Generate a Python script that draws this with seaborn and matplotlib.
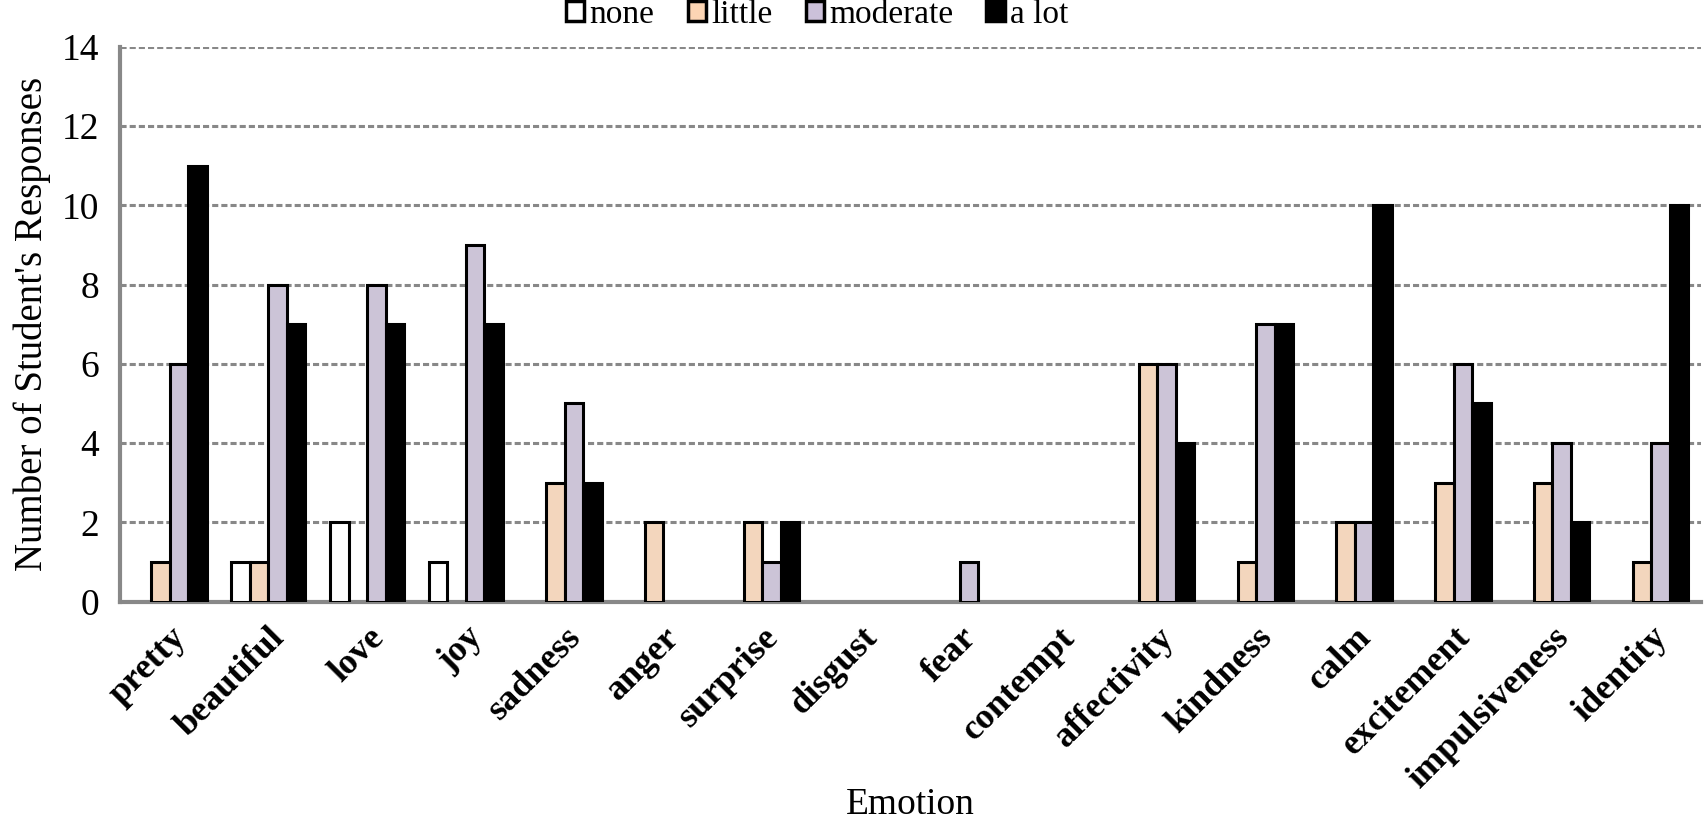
import pandas as pd
import matplotlib
matplotlib.use("Agg")
import matplotlib.pyplot as plt
from matplotlib.patches import Patch
import seaborn as sns

emotions = ["pretty", "beautiful", "love", "joy", "sadness", "anger", "surprise",
            "disgust", "fear", "contempt", "affectivity", "kindness", "calm",
            "excitement", "impulsiveness", "identity"]
levels = ["none", "little", "moderate", "a lot"]
none = [0, 1, 2, 1, 0, 0, 0, 0, 0, 0, 0, 0, 0, 0, 0, 0]
little = [1, 1, 0, 0, 3, 2, 2, 0, 0, 0, 6, 1, 2, 3, 3, 1]
moderate = [6, 8, 8, 9, 5, 0, 1, 0, 1, 0, 6, 7, 2, 6, 4, 4]
a_lot = [11, 7, 7, 7, 3, 0, 2, 0, 0, 0, 4, 7, 10, 5, 2, 10]
palette = ["#ffffff", "#fcd5b4", "#ccc1da", "#000000"]

sns.set_style("white")
plt.rcParams['font.family'] = ['Liberation Serif', 'DejaVu Serif']
plt.rcParams['text.color'] = 'black'
plt.rcParams['axes.labelcolor'] = 'black'
plt.rcParams['xtick.color'] = 'black'
plt.rcParams['ytick.color'] = 'black'

rows = []
for lvl, vals in zip(levels, [none, little, moderate, a_lot]):
    for emo, v in zip(emotions, vals):
        rows.append({"Emotion": emo, "level": lvl, "count": v})
df = pd.DataFrame(rows)

fig, ax = plt.subplots(figsize=(17.04, 8.24), dpi=100)
fig.subplots_adjust(left=0.0705, right=0.998, top=0.943, bottom=0.27)

sns.barplot(data=df, x="Emotion", y="count", hue="level", hue_order=levels,
            order=emotions, palette=palette, edgecolor="black", linewidth=2.2,
            width=0.75, ax=ax, zorder=3, legend=False)
# zero-height bars should not draw
for p in ax.patches:
    if p.get_height() == 0:
        p.set_visible(False)

ax.set_ylim(0, 14)
ax.set_yticks(range(0, 15, 2))
ax.set_xlim(-0.5, len(emotions) - 0.5)
ax.set_xticks([i - 0.5 for i in range(len(emotions) + 1)], minor=False)
ax.set_xticklabels([])
ax.set_xticks(range(len(emotions)), minor=True)
ax.set_xticklabels(emotions, minor=True, rotation=45, ha="right",
                   rotation_mode="anchor", fontsize=26, fontweight="bold")
ax.tick_params(axis="x", which="minor", length=0, pad=14)
ax.tick_params(axis="x", which="major", length=9, width=3, color="#888888", direction="out")
ax.tick_params(axis="y", length=9, width=3, color="#888888", direction="out",
               labelsize=27, labelcolor="black", pad=6)

ax.yaxis.grid(True, linestyle=(0, (2, 1)), color="#888888", linewidth=2.2, zorder=0)
ax.set_axisbelow(True)
for s in ["top", "right"]:
    ax.spines[s].set_visible(False)
for s in ["left", "bottom"]:
    ax.spines[s].set_color("#888888")
    ax.spines[s].set_linewidth(3)

ax.set_xlabel("Emotion", fontsize=27)
ax.xaxis.set_label_coords(0.5, -0.335)
ax.set_ylabel("Number of Student's Responses", fontsize=28, labelpad=8)

handles = [Patch(facecolor=c, edgecolor="black", linewidth=2.5) for c in palette]
ax.legend(handles, levels, loc="center", bbox_to_anchor=(0.441, 1.058), ncol=4,
          frameon=False, fontsize=24, handlelength=0.55, handleheight=0.55,
          handletextpad=0.15, columnspacing=1.0, borderaxespad=0, borderpad=0)

fig.savefig("out.png", dpi=100)
